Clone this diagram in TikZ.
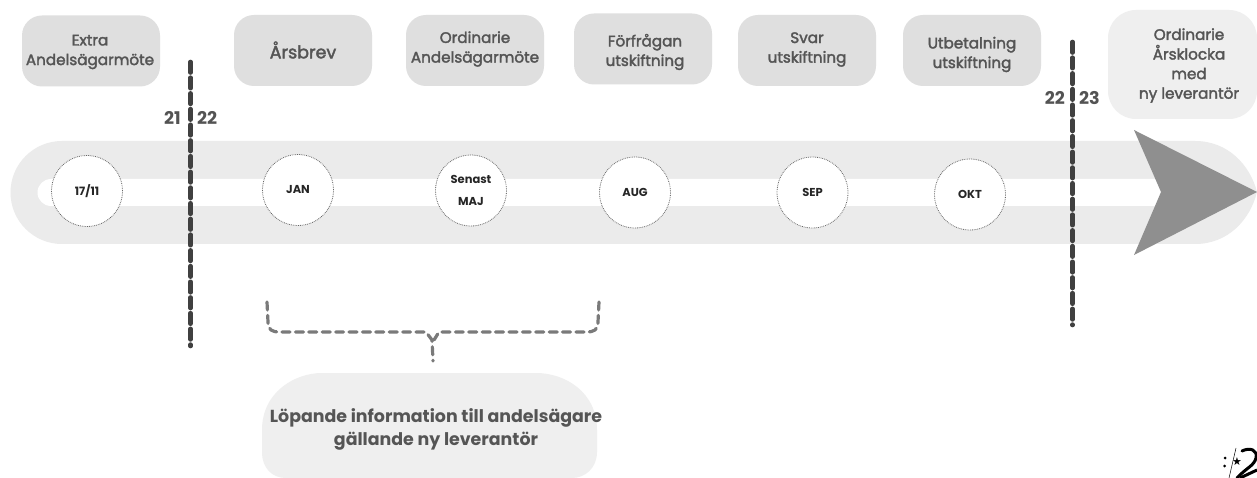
\documentclass[tikz,border=0pt]{standalone}
\usepackage{fontspec}
\setmainfont{Poppins}
\newfontfamily\medf{Poppins}[FakeBold=2.2]
\newfontfamily\dvfont{DejaVu Sans}
\definecolor{boxg}{HTML}{DFDFDF}
\definecolor{boxl}{HTML}{EFEFEF}
\definecolor{bandg}{HTML}{EBEBEB}
\definecolor{txtg}{HTML}{555555}
\definecolor{arrg}{HTML}{8F8F8F}
\definecolor{dashg}{HTML}{404040}
\definecolor{brg}{HTML}{7A7A7A}
\tikzset{
 x=1pt,y=-1pt,
 stage/.style={fill=boxg,rounded corners=20pt,minimum width=138pt,minimum height=71pt,inner sep=0pt},
 stagetext/.style={inner sep=0pt,align=center,text=txtg,font=\medf\fontsize{15.2}{19.6}\selectfont},
 date/.style={circle,draw=black!60,densely dotted,line width=0.8pt,fill=white,minimum size=71pt,inner sep=0pt,align=center,text=black!85,font=\bfseries\fontsize{11.5}{12}\selectfont},
 yearline/.style={draw=dashg,line width=4.6pt,dash pattern=on 10.5pt off 5.2pt,line cap=round},
 yr/.style={text=dashg!90,font=\bfseries\fontsize{17.5}{20}\selectfont,inner sep=0pt},
 brace/.style={draw=brg,line width=3.2pt,dash pattern=on 8pt off 5.4pt,line cap=round,line join=round},
}
\begin{document}
\begin{tikzpicture}
\useasboundingbox (0,0) rectangle (1257,478);
\fill[white] (0,0) rectangle (1257,478);
% band
\fill[bandg] (1257,192) .. controls (1250,165) and (1228,141) .. (1195,141) -- (62,141) arc[start angle=270,end angle=90,radius=51.5] -- (1195,244) .. controls (1228,244) and (1250,220) .. (1257,192) -- cycle;
\fill[white] (1165,179) -- (51,179) arc[start angle=270,end angle=90,radius=13.5] -- (1165,206) -- cycle;
\fill[arrg] (1134,130) -- (1257,192) -- (1134,255) -- (1161,192) -- cycle;
% stages
\node[stage] (s1) at (91,51) {};
\node[stage] (s2) at (303,50.5) {};
\node[stage] (s3) at (475,50.5) {};
\node[stage] (s4) at (643,49) {};
\node[stage] (s5) at (807,50.5) {};
\node[stage] (s6) at (972,50.5) {};
\node[stage,fill=boxl,minimum width=149pt,minimum height=109pt,rounded corners=28pt] (s7) at (1182.5,64.5) {};
\node[stagetext] (t1) at (90,52) {Extra\\Andelsägarmöte};
\node[stagetext,font=\medf\fontsize{17.5}{20}\selectfont] (t2) at (303,50) {Årsbrev};
\node[stagetext] (t3) at (475,49) {Ordinarie\\Andelsägarmöte};
\node[stagetext] (t4) at (645,52) {Förfrågan\\utskiftning};
\node[stagetext] (t5) at (807,49.5) {Svar\\utskiftning};
\node[stagetext] (t6) at (972,54.5) {Utbetalning\\utskiftning};
\node[stagetext] (t7) at (1189,65.5) {Ordinarie\\Årsklocka\\med\\ny leverantör};
% dates
\node[date] (d1) at (87,191) {17/11};
\node[date] (d2) at (298,190) {JAN};
\node[date,font=\bfseries\fontsize{11.5}{22}\selectfont] (d3) at (471,190.5) {Senast\\MAJ};
\node[date] (d4) at (635,192.5) {AUG};
\node[date] (d5) at (812.5,192.5) {SEP};
\node[date] (d6) at (970,194.5) {OKT};
% year lines
\coordinate (a1) at (190.5,62); \coordinate (a2) at (190.5,346);
\coordinate (b1) at (1072.5,42); \coordinate (b2) at (1072.5,325);
\draw[yearline] (a1) -- (a2);
\draw[yearline] (b1) -- (b2);
\node[yr,anchor=east] (y21) at (181,118) {21};
\node[yr,anchor=west] (y22) at (197,118) {22};
\node[yr,anchor=east] (y22b) at (1065,98) {22};
\node[yr,anchor=west] (y23) at (1079,98) {23};
% brace
\coordinate (bl) at (267,302); \coordinate (br) at (599,302); \coordinate (bt) at (433,361);
\draw[brace] (bl) -- (268,322) .. controls (268,330) and (272,332) .. (280,332) -- (426,332) -- (432,340) -- (bt);
\draw[brace] (br) -- (598,322) .. controls (598,330) and (594,332) .. (586,332) -- (439,332) -- (434,340);
% info
\fill[boxl] (262,430) .. controls (262,392) and (295,373) .. (322,373) -- (536,373) .. controls (565,373) and (597,392) .. (597,430) -- (597,452) .. controls (597,468) and (585,478) .. (572,478) -- (286,478) .. controls (272,478) and (262,468) .. (262,452) -- cycle;
\node[text=txtg,align=center,font=\bfseries\fontsize{17.4}{23}\selectfont,inner sep=0pt] (infot) at (436,429) {Löpande information till andelsägare\\gällande ny leverantör};
% logo
\draw[black,line width=0.5pt] (1236,448) -- (1229,478);
\fill[black] (1225,458) circle[radius=1.5] (1224.5,466) circle[radius=1.5];
\node[inner sep=0pt,text=black,font=\dvfont\fontsize{11}{11}\selectfont] (star) at (1237,462) {★};
\draw[black,line width=3pt,line cap=round] (1242,451) .. controls (1250,447) and (1258,450) .. (1256,458) .. controls (1254,466) and (1246,468) .. (1237,478);
\draw[black,line width=3pt] (1240,478) -- (1257,470);
\end{tikzpicture}
\end{document}
